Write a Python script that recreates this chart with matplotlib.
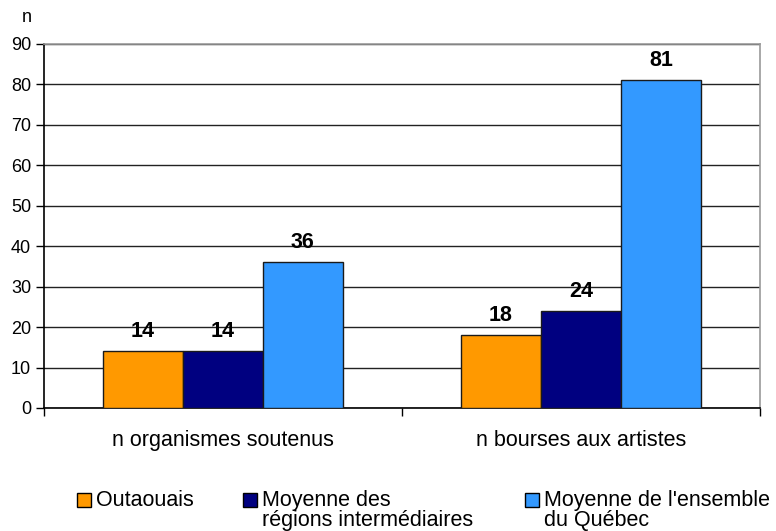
import matplotlib
matplotlib.use("Agg")
import matplotlib.pyplot as plt
import numpy as np
from matplotlib.patches import Rectangle

plt.rcParams['font.family'] = ['Liberation Sans', 'DejaVu Sans']

categories = ["n organismes soutenus", "n bourses aux artistes"]
series_names = ["Outaouais", "Moyenne des\nrégions intermédiaires", "Moyenne de l'ensemble\ndu Québec"]
outaouais = [14, 18]
moyenne_intermediaires = [14, 24]
moyenne_quebec = [36, 81]
y_ticks = [0, 10, 20, 30, 40, 50, 60, 70, 80, 90]
y_label = "n"

colors = ["#FF9900", "#000080", "#3399FF"]
series = [outaouais, moyenne_intermediaires, moyenne_quebec]

W, H = 776, 531
fig = plt.figure(figsize=(W / 100, H / 100), dpi=100)
ax = fig.add_axes([43.5 / W, (H - 408) / H, (760 - 43.5) / W, (408 - 44) / H])

x = np.arange(len(categories))
bw = 0.2235
for i, (vals, col) in enumerate(zip(series, colors)):
    pos = x + (i - 1) * bw
    bars = ax.bar(pos, vals, width=bw, color=col, edgecolor='#1a1a1a', linewidth=1.0, zorder=3)
    for b, v in zip(bars, vals):
        ax.annotate(str(v), (b.get_x() + b.get_width() / 2, v), xytext=(0, 6.5),
                    textcoords='offset points', ha='center', va='bottom',
                    fontsize=15.5, fontweight='bold', color='black', zorder=4)

ax.set_xlim(-0.5, len(categories) - 0.5)
ax.set_ylim(0, 90)
ax.set_yticks(y_ticks)
ax.set_yticklabels([str(t) for t in y_ticks], fontsize=13)
ax.yaxis.grid(True, color='#222222', linewidth=1.0, zorder=0)
ax.set_axisbelow(True)

# category boundaries ticks, labels at centers
ax.set_xticks(np.arange(-0.5, len(categories), 1.0))
ax.set_xticklabels([])
ax.set_xticks(x, minor=True)
ax.set_xticklabels(categories, minor=True, fontsize=15.5)
ax.tick_params(axis='x', which='major', length=6, width=1, color='black', direction='out')
ax.tick_params(axis='x', which='minor', length=0, pad=16)
ax.tick_params(axis='y', length=6, width=1, color='black', direction='out', pad=3)

for s in ['top', 'right']:
    ax.spines[s].set_color('#999999')
    ax.spines[s].set_linewidth(1.2)
for s in ['left', 'bottom']:
    ax.spines[s].set_color('black')
    ax.spines[s].set_linewidth(1.2)

fig.text(27 / W, 1 - 18 / H, y_label, ha='center', va='center', fontsize=13)

# legend (manual)
leg_sq_x = [77, 243, 525]
sq = 14
row_y = 500
for name, col, sx in zip(series_names, colors, leg_sq_x):
    fig.patches.append(Rectangle((sx / W, 1 - (row_y + sq / 2) / H), sq / W, sq / H,
                                 transform=fig.transFigure, facecolor=col,
                                 edgecolor='black', linewidth=1.0))
    fig.text((sx + sq + 5) / W, 1 - (row_y - 10) / H, name, ha='left', va='top',
             fontsize=15.5, linespacing=0.95)

fig.savefig("out.png", dpi=100)
